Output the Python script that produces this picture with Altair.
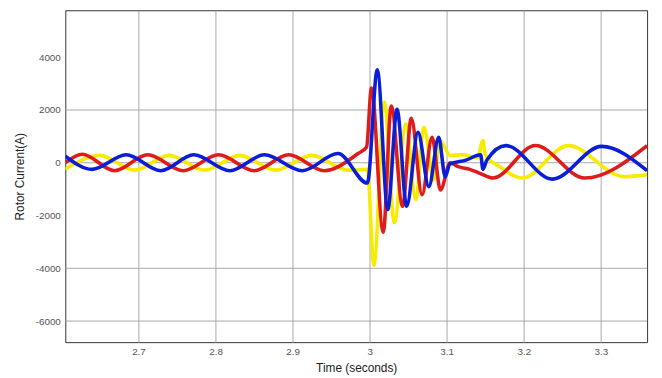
import altair as alt
import pandas as pd

# Three-phase rotor currents (time in s, current in A)
yellow_t = [2.605, 2.650, 2.695, 2.7397, 2.786, 2.8314, 2.878, 2.925, 2.972, 2.997,
            3.0055, 3.019, 3.032, 3.047, 3.0598, 3.0704, 3.083, 3.091, 3.1046, 3.12,
            3.14, 3.147, 3.150, 3.169, 3.198, 3.258, 3.330, 3.36]
yellow_v = [-250, 280, -280, 280, -280, 280, -280, 280, -280, -250,
            -3895, 2300, -2273, 1465, -1400, 1340, -654, 840, 280, 300,
            200, 840, 300, -150, -580, 650, -530, -450]

red_t = [2.605, 2.627, 2.669, 2.712, 2.758, 2.804, 2.850, 2.895, 2.941, 2.985, 2.996,
         3.0023, 3.0176, 3.028, 3.0427, 3.054, 3.068, 3.081, 3.0918, 3.1046, 3.115,
         3.13, 3.143, 3.160, 3.215, 3.279, 3.36]
red_v = [0, 320, -300, 300, -300, 300, -300, 300, -300, 350, 600,
         2834, -2636, 2150, -1652, 1690, -1215, 965, -1028, 0, -150,
         -250, -400, -580, 654, -580, 650]

blue_t = [2.605, 2.640, 2.684, 2.729, 2.7717, 2.8186, 2.8634, 2.9125, 2.959, 2.997,
          3.0099, 3.0235, 3.0355, 3.048, 3.0627, 3.0768, 3.0896, 3.098, 3.104, 3.125,
          3.144, 3.147, 3.152, 3.177, 3.237, 3.301, 3.36]
blue_v = [250, -250, 300, -300, 300, -300, 300, -300, 350, -770,
          3520, -1776, 2026, -1652, 1151, -905, 965, -530, -50, 100,
          300, -250, 100, 650, -620, 620, -300]

x_ticks = [2.7, 2.8, 2.9, 3.0, 3.1, 3.2, 3.3]
y_ticks = [-6000, -4000, -2000, 0, 2000, 4000]
grid_y = [2000, 0, -4000, -6000]

FONT = "Liberation Sans"

x_scale = alt.Scale(domain=[2.605, 3.36], nice=False, zero=False)
y_scale = alt.Scale(domain=[-6800, 5780], nice=False, zero=False)

x_axis = alt.Axis(title="Time (seconds)", values=x_ticks, format="~g", grid=True,
                  gridColor="#a8a8a8", gridWidth=1, ticks=False, domain=False,
                  labelFont=FONT, labelFontSize=10, labelColor="#555555",
                  labelPadding=5, titleFont=FONT, titleFontSize=12,
                  titleFontWeight="normal", titleColor="#222222", titlePadding=6)
y_axis = alt.Axis(title="Rotor Current(A)", values=y_ticks,
                  labelExpr="'' + datum.value", grid=False, ticks=False,
                  domain=False, labelFont=FONT, labelFontSize=10,
                  labelColor="#555555", labelPadding=5, titleFont=FONT,
                  titleFontSize=12, titleFontWeight="normal",
                  titleColor="#222222", titlePadding=9)

rules = alt.Chart(pd.DataFrame({"g": grid_y})).mark_rule(
    color="#a8a8a8", strokeWidth=1
).encode(y=alt.Y("g:Q", scale=y_scale, axis=y_axis))


def phase(t, v, color):
    return alt.Chart(pd.DataFrame({"t": t, "v": v})).mark_line(
        color=color, strokeWidth=3.6, interpolate="monotone", clip=True
    ).encode(
        x=alt.X("t:Q", scale=x_scale, axis=x_axis),
        y=alt.Y("v:Q", scale=y_scale, axis=y_axis),
    )


chart = alt.layer(
    rules,
    phase(yellow_t, yellow_v, "#f7eb00"),
    phase(red_t, red_v, "#e01b1b"),
    phase(blue_t, blue_v, "#0a1ed8"),
).properties(
    width=589, height=336,
    autosize=alt.AutoSizeParams(type="none"),
    padding={"left": 58, "top": 0, "right": 7, "bottom": 34},
).configure_view(stroke="#333333", strokeWidth=1)

chart.save("out.html", embed_options={"renderer": "svg", "actions": False})
